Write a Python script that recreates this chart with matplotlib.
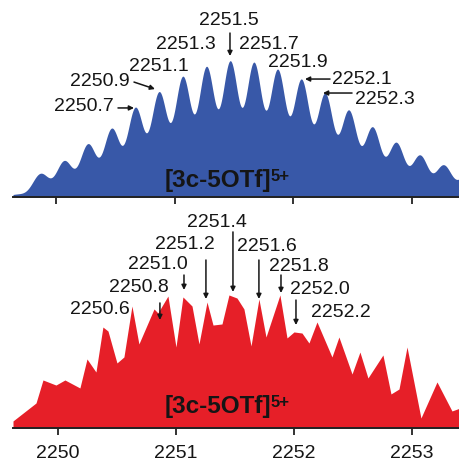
"""
isotope pattern of [3c-5OTf]5+ : calculated (top, blue) vs. observed (bottom, red)
"""

import numpy as np
import matplotlib
matplotlib.use("Agg")
import matplotlib.pyplot as plt

plt.rcParams['font.family'] = ['Liberation Sans', 'DejaVu Sans']

# --- calculated isotope pattern (peak list, relative intensity) ---
calc_mz = [2249.67, 2249.87, 2250.07, 2250.27, 2250.47, 2250.67, 2250.87,
           2251.07, 2251.27, 2251.47, 2251.67, 2251.87, 2252.07, 2252.27,
           2252.47, 2252.67, 2252.87, 2253.07, 2253.27, 2253.47]
calc_int = [2, 17, 26, 38, 49, 64, 75, 86, 93, 97, 96, 91, 84, 74, 62, 50,
            39, 30, 23, 16]
PEAK_SIGMA = 0.068  # line width of the simulated peaks

# --- observed spectrum (profile, relative intensity) ---
obs_mz = [2249.619, 2249.814, 2249.873, 2249.983, 2250.059, 2250.186, 2250.246,
          2250.322, 2250.381, 2250.424, 2250.500, 2250.559, 2250.627, 2250.686,
          2250.814, 2250.847, 2250.932, 2251.000, 2251.059, 2251.136, 2251.195,
          2251.263, 2251.314, 2251.390, 2251.449, 2251.517, 2251.576, 2251.636,
          2251.703, 2251.763, 2251.881, 2251.941, 2252.000, 2252.068, 2252.127,
          2252.195, 2252.322, 2252.381, 2252.492, 2252.559, 2252.627, 2252.754,
          2252.822, 2252.890, 2252.958, 2253.076, 2253.212, 2253.339, 2253.407]
obs_int = [5.3, 18.8, 36.1, 32.3, 36.1, 30.1, 51.9, 42.1, 75.9, 72.9, 48.9, 53.4,
           91.7, 63.2, 89.5, 86.5, 99.2, 60.9, 98.5, 91.7, 63.2, 94.7, 77.4, 78.2,
           100.0, 97.7, 89.5, 61.7, 97.0, 68.4, 100.0, 67.7, 72.2, 71.4, 63.9,
           79.7, 53.4, 68.4, 40.6, 57.1, 37.6, 54.9, 25.6, 29.3, 60.9, 7.5, 34.6,
           12.8, 15.0]

# --- axis ticks ---
tick_values = [2250, 2251, 2252, 2253]
tick_labels = ["2250", "2251", "2252", "2253"]

# --- peak labels ---
calc_labels = ["2250.7", "2250.9", "2251.1", "2251.3", "2251.5", "2251.7",
               "2251.9", "2252.1", "2252.3"]
obs_labels = ["2250.6", "2250.8", "2251.0", "2251.2", "2251.4", "2251.6",
              "2251.8", "2252.0", "2252.2"]
ion_label = "[3c-5OTf]"
ion_charge = "5+"

# label placement (data coords): text centre, arrow tail, arrow tip
calc_text_pos = [(2250.232, 66.4), (2250.371, 84.3), (2250.869, 95.6),
                 (2251.097, 111.3), (2251.460, 129.2), (2251.797, 111.3),
                 (2252.042, 98.5), (2252.582, 86.1), (2252.776, 71.2)]
calc_arrows = [((2250.523, 65.0), (2250.658, 65.0)),
               ((2250.658, 83.9), (2250.835, 78.8)),
               None, None,
               ((2251.468, 119.7), (2251.468, 102.9)),
               None, None,
               ((2252.312, 86.1), (2252.101, 86.1)),
               ((2252.498, 75.9), (2252.253, 75.9))]
obs_text_pos = [(2250.356, 89.1), (2250.682, 105.3), (2250.847, 122.6),
                (2251.076, 138.3), (2251.347, 154.5), (2251.771, 136.1),
                (2252.038, 121.1), (2252.220, 103.8), (2252.394, 87.2)]
obs_arrows = [None,
              ((2250.864, 94.0), (2250.864, 81.2)),
              ((2251.068, 115.0), (2251.068, 103.8)),
              ((2251.254, 126.3), (2251.254, 97.0)),
              ((2251.483, 147.4), (2251.483, 102.3)),
              ((2251.703, 126.3), (2251.703, 97.0)),
              ((2251.890, 115.0), (2251.890, 101.5)),
              ((2252.017, 96.2), (2252.017, 77.4)),
              None]
calc_ion_pos = (2250.920, 7.3)
obs_ion_pos = (2250.907, 11.3)

BLUE = "#3858a8"
RED = "#e61f28"
LABEL_SIZE = 14
TEXT_COLOR = "#151515"


def style_axis(ax, xlim, ylim, show_labels):
    ax.set_xlim(*xlim)
    ax.set_ylim(*ylim)
    ax.patch.set_alpha(0)
    for side in ("left", "right", "top"):
        ax.spines[side].set_visible(False)
    ax.spines["bottom"].set_linewidth(1.4)
    ax.spines["bottom"].set_color("#222222")
    ax.set_yticks([])
    ax.set_xticks(tick_values)
    ax.tick_params(axis="x", direction="out", length=5, width=1.3,
                   color="#222222", pad=7, labelsize=LABEL_SIZE,
                   labelcolor=TEXT_COLOR)
    if show_labels:
        ax.set_xticklabels(tick_labels)
    else:
        ax.set_xticklabels([])


def add_labels(ax, labels, text_pos, arrows):
    for lab, pos, arr in zip(labels, text_pos, arrows):
        ax.text(pos[0], pos[1], lab, ha="center", va="center",
                fontsize=LABEL_SIZE, color=TEXT_COLOR, zorder=5)
        if arr is not None:
            ax.annotate("", xy=arr[1], xytext=arr[0],
                        arrowprops=dict(arrowstyle="-|>", lw=1.1,
                                        color=TEXT_COLOR, mutation_scale=7,
                                        shrinkA=0, shrinkB=0),
                        zorder=5)


def add_ion(ax, pos):
    main = ax.text(pos[0], pos[1], ion_label, ha="left", va="baseline",
                   fontsize=17.5, fontweight="bold", color=TEXT_COLOR, zorder=5)
    ax.annotate(ion_charge, xy=(1, 1), xycoords=main, xytext=(-0.5, 0),
                textcoords="offset points", ha="left", va="top",
                fontsize=12, fontweight="bold", color=TEXT_COLOR, zorder=5)


fig = plt.figure(figsize=(4.6, 4.62), dpi=100)

# --- top: calculated ---
ax_top = fig.add_axes([13 / 460, 265 / 462, 447 / 460, 197 / 462])
top_xlim = (2249.637, 2253.409)
mz_grid = np.linspace(top_xlim[0], top_xlim[1], 2000)
profile = np.zeros_like(mz_grid)
for c, h in zip(calc_mz, calc_int):
    profile += h * np.exp(-0.5 * ((mz_grid - c) / PEAK_SIGMA) ** 2)
ax_top.fill_between(mz_grid, 0, profile, color=BLUE, lw=0)
style_axis(ax_top, top_xlim, (0, 143.8), show_labels=False)
add_labels(ax_top, calc_labels, calc_text_pos, calc_arrows)
add_ion(ax_top, calc_ion_pos)

# --- bottom: observed ---
ax_bot = fig.add_axes([13 / 460, 34 / 462, 447 / 460, 228 / 462])
bot_xlim = (2249.619, 2253.407)
ax_bot.fill_between(obs_mz, 0, obs_int, color=RED, lw=0)
style_axis(ax_bot, bot_xlim, (0, 171.4), show_labels=True)
add_labels(ax_bot, obs_labels, obs_text_pos, obs_arrows)
add_ion(ax_bot, obs_ion_pos)

fig.savefig("out.png", dpi=100)
plt.close(fig)
